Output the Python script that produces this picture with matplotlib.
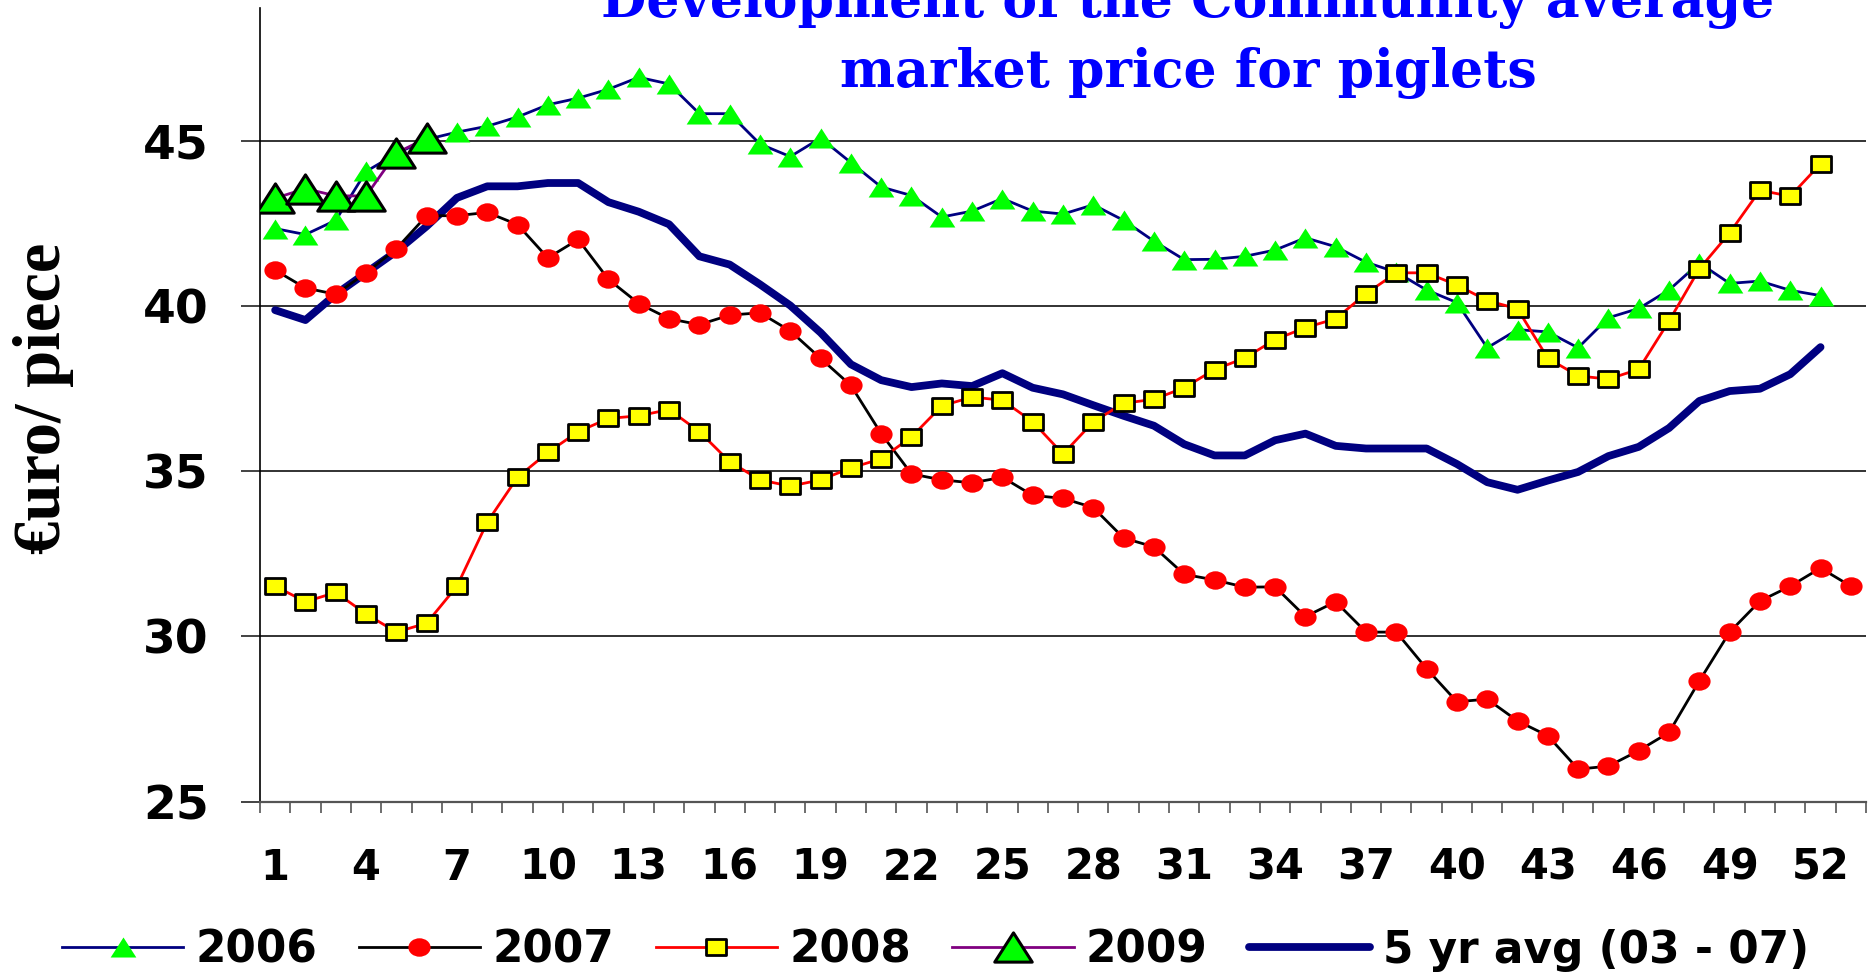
import matplotlib
matplotlib.use('Agg')
import matplotlib.pyplot as plt
from matplotlib.path import Path
import numpy as np

# ---------------- data ----------------
weeks_52 = list(range(1, 53))
weeks_53 = list(range(1, 54))
weeks_2009 = [1, 2, 3, 4, 5, 6]

y2006 = [42.35, 42.17, 42.60, 44.08, 44.62, 45.05, 45.27, 45.45, 45.73, 46.10,
         46.30, 46.57, 46.93, 46.73, 45.83, 45.83, 44.91, 44.53, 45.09, 44.35,
         43.61, 43.35, 42.70, 42.88, 43.26, 42.88, 42.79, 43.07, 42.60, 41.97,
         41.41, 41.42, 41.51, 41.70, 42.07, 41.80, 41.33, 41.03, 40.49, 40.11,
         38.74, 39.29, 39.22, 38.74, 39.65, 39.93, 40.49, 41.31, 40.69, 40.76,
         40.48, 40.32]

y2007 = [41.09, 40.55, 40.36, 41.01, 41.74, 42.74, 42.74, 42.84, 42.47, 41.46,
         42.02, 40.81, 40.08, 39.62, 39.44, 39.73, 39.80, 39.25, 38.42, 37.60,
         36.14, 34.92, 34.74, 34.65, 34.82, 34.27, 34.18, 33.90, 32.98, 32.71,
         31.88, 31.71, 31.49, 31.50, 30.60, 31.05, 30.13, 30.13, 29.02, 28.02,
         28.10, 27.44, 26.99, 25.98, 26.07, 26.54, 27.09, 28.65, 30.13, 31.07,
         31.52, 32.07, 31.52]

y2008 = [31.52, 31.05, 31.33, 30.68, 30.13, 30.40, 31.52, 33.46, 34.82, 35.57,
         36.20, 36.60, 36.68, 36.87, 36.20, 35.29, 34.74, 34.55, 34.74, 35.10,
         35.38, 36.04, 36.98, 37.25, 37.15, 36.50, 35.52, 36.50, 37.06, 37.18,
         37.53, 38.08, 38.43, 38.99, 39.35, 39.62, 40.38, 41.01, 41.01, 40.64,
         40.17, 39.92, 38.42, 37.89, 37.79, 38.09, 39.55, 41.13, 42.22, 43.51,
         43.33, 44.31]

y2009 = [43.27, 43.56, 43.34, 43.34, 44.64, 45.09]

avg_03_07 = [39.88, 39.58, 40.36, 41.01, 41.66, 42.42, 43.28, 43.63, 43.63, 43.73,
             43.73, 43.15, 42.86, 42.48, 41.51, 41.26, 40.66, 40.02, 39.20, 38.24,
             37.76, 37.55, 37.66, 37.58, 37.97, 37.53, 37.33, 37.00, 36.68, 36.38,
             35.82, 35.48, 35.48, 35.94, 36.14, 35.77, 35.69, 35.69, 35.69, 35.22,
             34.67, 34.44, 34.72, 34.98, 35.46, 35.74, 36.31, 37.13, 37.43, 37.50,
             37.94, 38.76]

series_labels = ['2006', '2007', '2008', '2009', '5 yr avg (03 - 07)']
xtick_positions = [1, 4, 7, 10, 13, 16, 19, 22, 25, 28, 31, 34, 37, 40, 43, 46, 49, 52]
xtick_labels = ['1', '4', '7', '10', '13', '16', '19', '22', '25', '28', '31',
                '34', '37', '40', '43', '46', '49', '52']
ytick_values = [25, 30, 35, 40, 45]
title_line1 = 'Development of the Community average'
title_line2 = 'market price for piglets'
ylabel_text = '€uro/ piece'

# ---------------- markers (horizontally stretched like the source) ----------------
tri = Path([(0, 0.78), (-1, -0.78), (1, -0.78), (0, 0.78)],
           [Path.MOVETO, Path.LINETO, Path.LINETO, Path.CLOSEPOLY])
rect = Path([(-1, -0.8), (1, -0.8), (1, 0.8), (-1, 0.8), (-1, -0.8)],
            [Path.MOVETO, Path.LINETO, Path.LINETO, Path.LINETO, Path.CLOSEPOLY])
uc = Path.unit_circle()
ell = Path(uc.vertices * np.array([1.0, 0.83]), uc.codes)

# ---------------- figure ----------------
fig = plt.figure(figsize=(18.69, 9.74), dpi=100)
ax = fig.add_axes([260 / 1869, 1 - 801.5 / 974, (1866 - 260) / 1869, (801.5 - 8) / 974])

ax.set_xlim(0.5, 53.5)
ax.set_ylim(25, 49.03)

for v in [30, 35, 40, 45]:
    ax.axhline(v, color='#222222', lw=1.3, zorder=1)

l_avg, = ax.plot(weeks_52, avg_03_07, color='#000080', lw=5.6, solid_joinstyle='round',
                 solid_capstyle='round', zorder=2, label=series_labels[4])
l06, = ax.plot(weeks_52, y2006, color='#000080', lw=2.0, marker=tri, markersize=18.5,
               markerfacecolor='#00FF00', markeredgewidth=0, zorder=3, label=series_labels[0])
l07, = ax.plot(weeks_53, y2007, color='black', lw=2.0, marker=ell, markersize=16,
               markerfacecolor='#FF0000', markeredgewidth=0, zorder=4, label=series_labels[1])
l08, = ax.plot(weeks_52, y2008, color='#FF0000', lw=2.0, marker=rect, markersize=14,
               markerfacecolor='#FFFF00', markeredgecolor='black', markeredgewidth=2.0,
               zorder=5, label=series_labels[2])
l09, = ax.plot(weeks_2009, y2009, color='#800080', lw=2.0, marker=tri, markersize=27,
               markerfacecolor='#00FF00', markeredgecolor='black', markeredgewidth=2.2,
               zorder=6, label=series_labels[3])

# spines
for s in ['top', 'right']:
    ax.spines[s].set_visible(False)
ax.spines['left'].set_color('black')
ax.spines['left'].set_linewidth(1.2)
ax.spines['bottom'].set_color('#555555')
ax.spines['bottom'].set_linewidth(1.6)

# x ticks: marks at category boundaries, labels at selected weeks
ax.set_xticks(np.arange(0.5, 54.0, 1.0))
ax.tick_params(axis='x', which='major', direction='out', length=8.2, width=1.2,
               color='#555555', labelbottom=False)
ax.set_xticks(xtick_positions, minor=True)
ax.set_xticklabels(xtick_labels, minor=True)
ax.tick_params(axis='x', which='minor', length=0, pad=32.5, labelsize=30)
for t in ax.get_xticklabels(minor=True):
    t.set_fontfamily('DejaVu Sans')
    t.set_fontweight('bold')

ax.set_yticks(ytick_values)
ax.set_yticklabels([str(v) for v in ytick_values])
ax.tick_params(axis='y', direction='out', length=14, width=1.2, color='#222222',
               pad=23, labelsize=34)
for t in ax.get_yticklabels():
    t.set_fontfamily('DejaVu Sans')
    t.set_fontweight('bold')

# titles
fig.text(1188 / 1869, 1 - 17 / 974, title_line1, ha='center', va='baseline',
         color='#0000FF', fontsize=37.5, fontweight='bold', family='DejaVu Serif')
fig.text(1188 / 1869, 1 - 87 / 974, title_line2, ha='center', va='baseline',
         color='#0000FF', fontsize=37.5, fontweight='bold', family='DejaVu Serif')

fig.text(44 / 1869, 1 - 398 / 974, ylabel_text, rotation=90, ha='center', va='center',
         color='black', fontsize=48, fontweight='bold', family='Liberation Serif')

# legend
leg = fig.legend(handles=[l06, l07, l08, l09, l_avg], labels=series_labels,
                 loc='center left', bbox_to_anchor=(62 / 1869, 1 - 950 / 974),
                 ncol=5, frameon=False, borderpad=0, borderaxespad=0,
                 handlelength=2.77, handletextpad=0.28, columnspacing=0.95,
                 prop={'family': 'DejaVu Sans', 'weight': 'bold', 'size': 31.5})

fig.savefig('out.png', dpi=100)
